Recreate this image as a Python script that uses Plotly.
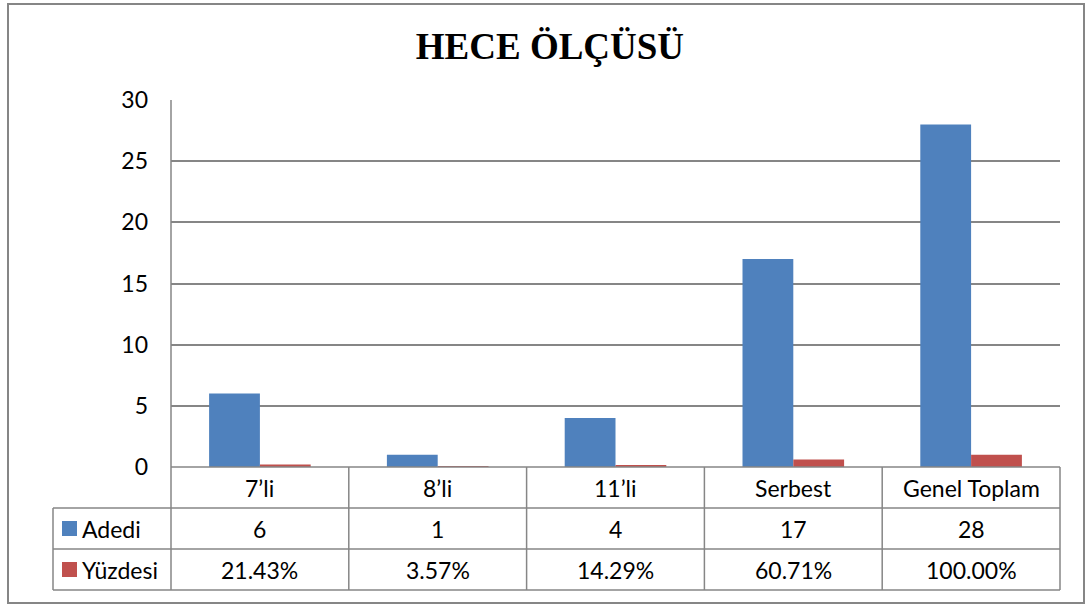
import plotly.graph_objects as go

categories = ["7\u2019li", "8\u2019li", "11\u2019li", "Serbest", "Genel Toplam"]
adedi = [6, 1, 4, 17, 28]
yuzdesi = [0.2143, 0.0357, 0.1429, 0.6071, 1.0]
series_names = ["Adedi", "Yüzdesi"]
colors = ["#4F81BD", "#C0504D"]
title_text = "HECE ÖLÇÜSÜ"

W, H = 1089, 606
L, R, T, B = 171, 1060, 100, 467  # plot area in pixels

def px(x):
    return (x - L) / (R - L)

def py(y):
    return (B - y) / (B - T)

FONT = "Lato"
GRAY = "#868686"

fig = go.Figure()
fig.add_trace(go.Bar(x=categories, y=adedi, name=series_names[0],
                     marker=dict(color=colors[0], line=dict(width=0))))
fig.add_trace(go.Bar(x=categories, y=yuzdesi, name=series_names[1],
                     marker=dict(color=colors[1], line=dict(width=0))))

shapes = []
# outer chart border
shapes.append(dict(type="rect", xref="paper", yref="paper",
                   x0=px(8), x1=px(1084), y0=py(603), y1=py(4),
                   line=dict(color=GRAY, width=2), layer="below"))
# left axis line
shapes.append(dict(type="line", xref="paper", yref="paper",
                   x0=0, x1=0, y0=0, y1=1, line=dict(color=GRAY, width=1.5)))
# table horizontal lines
rows = [467, 508, 549, 590]
shapes.append(dict(type="line", xref="paper", yref="paper", x0=0, x1=1,
                   y0=py(467), y1=py(467), line=dict(color=GRAY, width=1.5)))
for yy in rows[1:]:
    shapes.append(dict(type="line", xref="paper", yref="paper", x0=px(53), x1=1,
                       y0=py(yy), y1=py(yy), line=dict(color=GRAY, width=1.5)))
# table vertical lines
ncat = len(categories)
for i in range(ncat + 1):
    xx = L + i * (R - L) / ncat
    shapes.append(dict(type="line", xref="paper", yref="paper", x0=px(xx), x1=px(xx),
                       y0=py(467), y1=py(590), line=dict(color=GRAY, width=1.5)))
shapes.append(dict(type="line", xref="paper", yref="paper", x0=px(53), x1=px(53),
                   y0=py(508), y1=py(590), line=dict(color=GRAY, width=1.5)))
# legend keys
for j, c in enumerate(colors):
    yc = (rows[j + 1] + rows[j + 2]) / 2
    shapes.append(dict(type="rect", xref="paper", yref="paper",
                       x0=px(62), x1=px(77), y0=py(yc + 7.5), y1=py(yc - 7.5),
                       fillcolor=c, line=dict(width=0)))

annotations = []
fs = 23
tf = dict(family=FONT, size=fs, color="#000")
for i, cat in enumerate(categories):
    annotations.append(dict(x=cat, xref="x", y=py((rows[0] + rows[1]) / 2), yref="paper",
                            yanchor="middle", text=cat, showarrow=False, font=tf))
    annotations.append(dict(x=cat, xref="x", y=py((rows[1] + rows[2]) / 2), yref="paper",
                            yanchor="middle", text=f"{adedi[i]}", showarrow=False, font=tf))
    annotations.append(dict(x=cat, xref="x", y=py((rows[2] + rows[3]) / 2), yref="paper",
                            yanchor="middle", text=f"{yuzdesi[i]*100:.2f}%", showarrow=False, font=tf))
for j, name in enumerate(series_names):
    yc = (rows[j + 1] + rows[j + 2]) / 2
    annotations.append(dict(x=px(80), xref="paper", y=py(yc), yref="paper", xanchor="left",
                            yanchor="middle", text=name, showarrow=False, font=tf))

fig.update_layout(
    width=W, height=H,
    margin=dict(l=L, r=W - R, t=T, b=H - B, pad=0),
    paper_bgcolor="white", plot_bgcolor="white",
    title=dict(text=f"<b>{title_text}</b>", x=0.505, xanchor="center",
               y=1 - 46 / H, yanchor="middle", yref="container",
               font=dict(family="Liberation Serif", size=37, color="#000")),
    barmode="group", bargap=1.5 / 3.5, bargroupgap=0,
    showlegend=False,
    xaxis=dict(showticklabels=False, showgrid=False, zeroline=False, showline=False,
               ticks="", range=[-0.5, ncat - 0.5]),
    yaxis=dict(range=[0, 30], dtick=5, showgrid=True, gridcolor=GRAY, gridwidth=1.5,
               zeroline=False, showline=False, ticks="", ticklabelstandoff=22,
               tickfont=tf),
    shapes=shapes, annotations=annotations,
)

fig.write_html("out.html", config={"displayModeBar": False},
               post_script="document.body.style.margin='0';document.body.style.overflow='hidden';")
